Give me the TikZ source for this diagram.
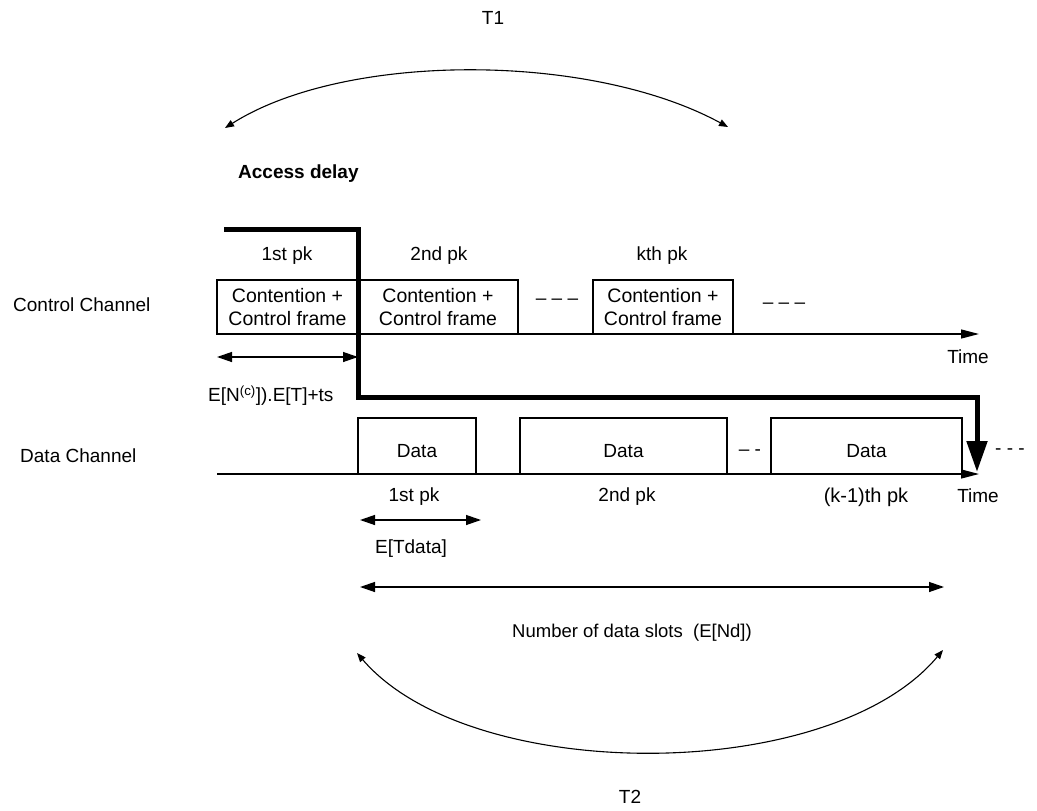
\documentclass[tikz,border=0pt]{standalone}
\usepackage{fontspec}
\setmainfont{Liberation Sans}
\usetikzlibrary{arrows.meta}
\begin{document}
\begin{tikzpicture}[x=1pt,y=-1pt,
  lbl/.style={font=\fontsize{19}{23}\selectfont, inner sep=0pt},
  cbox/.style={draw, line width=1.1pt, minimum height=54pt, inner sep=0pt, align=center, font=\fontsize{19.5}{22.5}\selectfont},
  dbox/.style={draw, line width=1.1pt, minimum height=56pt, inner sep=0pt, text height=23pt, text depth=0pt, font=\fontsize{19}{23}\selectfont},
  axis/.style={line width=1.3pt, -{Triangle[length=18pt,width=9pt]}},
  dim/.style={line width=1.3pt, {Triangle[length=15pt,width=10pt]}-{Triangle[length=15pt,width=10pt]}},
  arc/.style={line width=1.1pt, {Triangle[length=9pt,width=7pt]}-{Triangle[length=9pt,width=7pt]}},
  thick path/.style={line width=5pt},
  dashtxt/.style={font=\fontsize{19}{23}\selectfont, inner sep=0pt}
]
\useasboundingbox (0,0) rectangle (1037,811);

% top labels and arc
\node[lbl] (t1) at (493,18) {T1};
\coordinate (a1l) at (225,128);
\coordinate (a1r) at (728,127);
\draw[arc] (a1l) .. controls (345,52) and (590,52) .. (a1r);
\node[lbl, font=\fontsize{19}{23}\selectfont\bfseries, anchor=west] (acc) at (238,174) {Access delay};

% control channel
\node[lbl, anchor=west] (cc) at (13,305) {Control Channel};
\node[lbl] (p1) at (287,256) {1st pk};
\node[lbl] (p2) at (439,256) {2nd pk};
\node[lbl] (pk) at (662,256) {kth pk};
\node[cbox, minimum width=141pt] (c1) at (287.5,307) {Contention +\\Control frame};
\node[cbox, minimum width=160pt] (c2) at (438,307) {Contention +\\Control frame};
\node[cbox, minimum width=140pt] (c3) at (663,307) {Contention +\\Control frame};
\node[dashtxt] (cd1) at (557,302) {– – –};
\node[dashtxt] (cd2) at (784,306) {– – –};
\coordinate (cax0) at (217,334);
\coordinate (cax1) at (979,334);
\draw[axis] (cax0) -- (cax1);
\node[lbl] (time1) at (968,357) {Time};

% access delay dimension
\coordinate (e1l) at (217,357);
\coordinate (e1r) at (358,357);
\draw[dim] (e1l) -- (e1r);
\node[lbl, anchor=west] (en) at (208,396) {E[N\textsuperscript{(c)}]).E[T]+ts};

% data channel
\node[lbl, anchor=west] (dc) at (20,456) {Data Channel};
\node[dbox, minimum width=118pt] (d1) at (417,446) {Data};
\node[dbox, minimum width=207pt] (d2) at (623.5,446) {Data};
\node[dbox, minimum width=191pt] (d3) at (866.5,446) {Data};
\node[dashtxt] (dd1) at (750,453) {– -};
\node[dashtxt] (dd2) at (1010,452) {- - -};
\coordinate (dax0) at (217,474);
\coordinate (dax1) at (979,474);
\draw[axis] (dax0) -- (dax1);
\node[lbl] (time2) at (978,496) {Time};
\node[lbl] (q1) at (414,497) {1st pk};
\node[lbl] (q2) at (627,497) {2nd pk};
\node[lbl, font=\fontsize{20}{23}\selectfont] (qk) at (866,497) {(k-1)th pk};

% thick access path
\coordinate (th0) at (224,229);
\coordinate (th1) at (358,229);
\coordinate (th2) at (358,397);
\coordinate (th3) at (977,397);
\coordinate (th4) at (977,472);
\draw[thick path, -{Triangle[length=31pt,width=20pt]}] (th0) -- (th1) -- (th2) -- (th3) -- (th4);

% Tdata dimension
\coordinate (tdl) at (360,520);
\coordinate (tdr) at (481,520);
\draw[dim] (tdl) -- (tdr);
\node[lbl] (td) at (411,549) {E[Tdata]};

% Nd dimension
\coordinate (ndl) at (360,587);
\coordinate (ndr) at (944,587);
\draw[dim] (ndl) -- (ndr);
\node[lbl, font=\fontsize{18.5}{23}\selectfont] (nd) at (632,633) {Number of data slots~~(E[Nd])};

% bottom arc
\coordinate (a2l) at (357,653);
\coordinate (a2r) at (943,650);
\draw[arc] (a2l) .. controls (470,785) and (830,785) .. (a2r);
\node[lbl] (t2) at (630,797) {T2};
\end{tikzpicture}
\end{document}
